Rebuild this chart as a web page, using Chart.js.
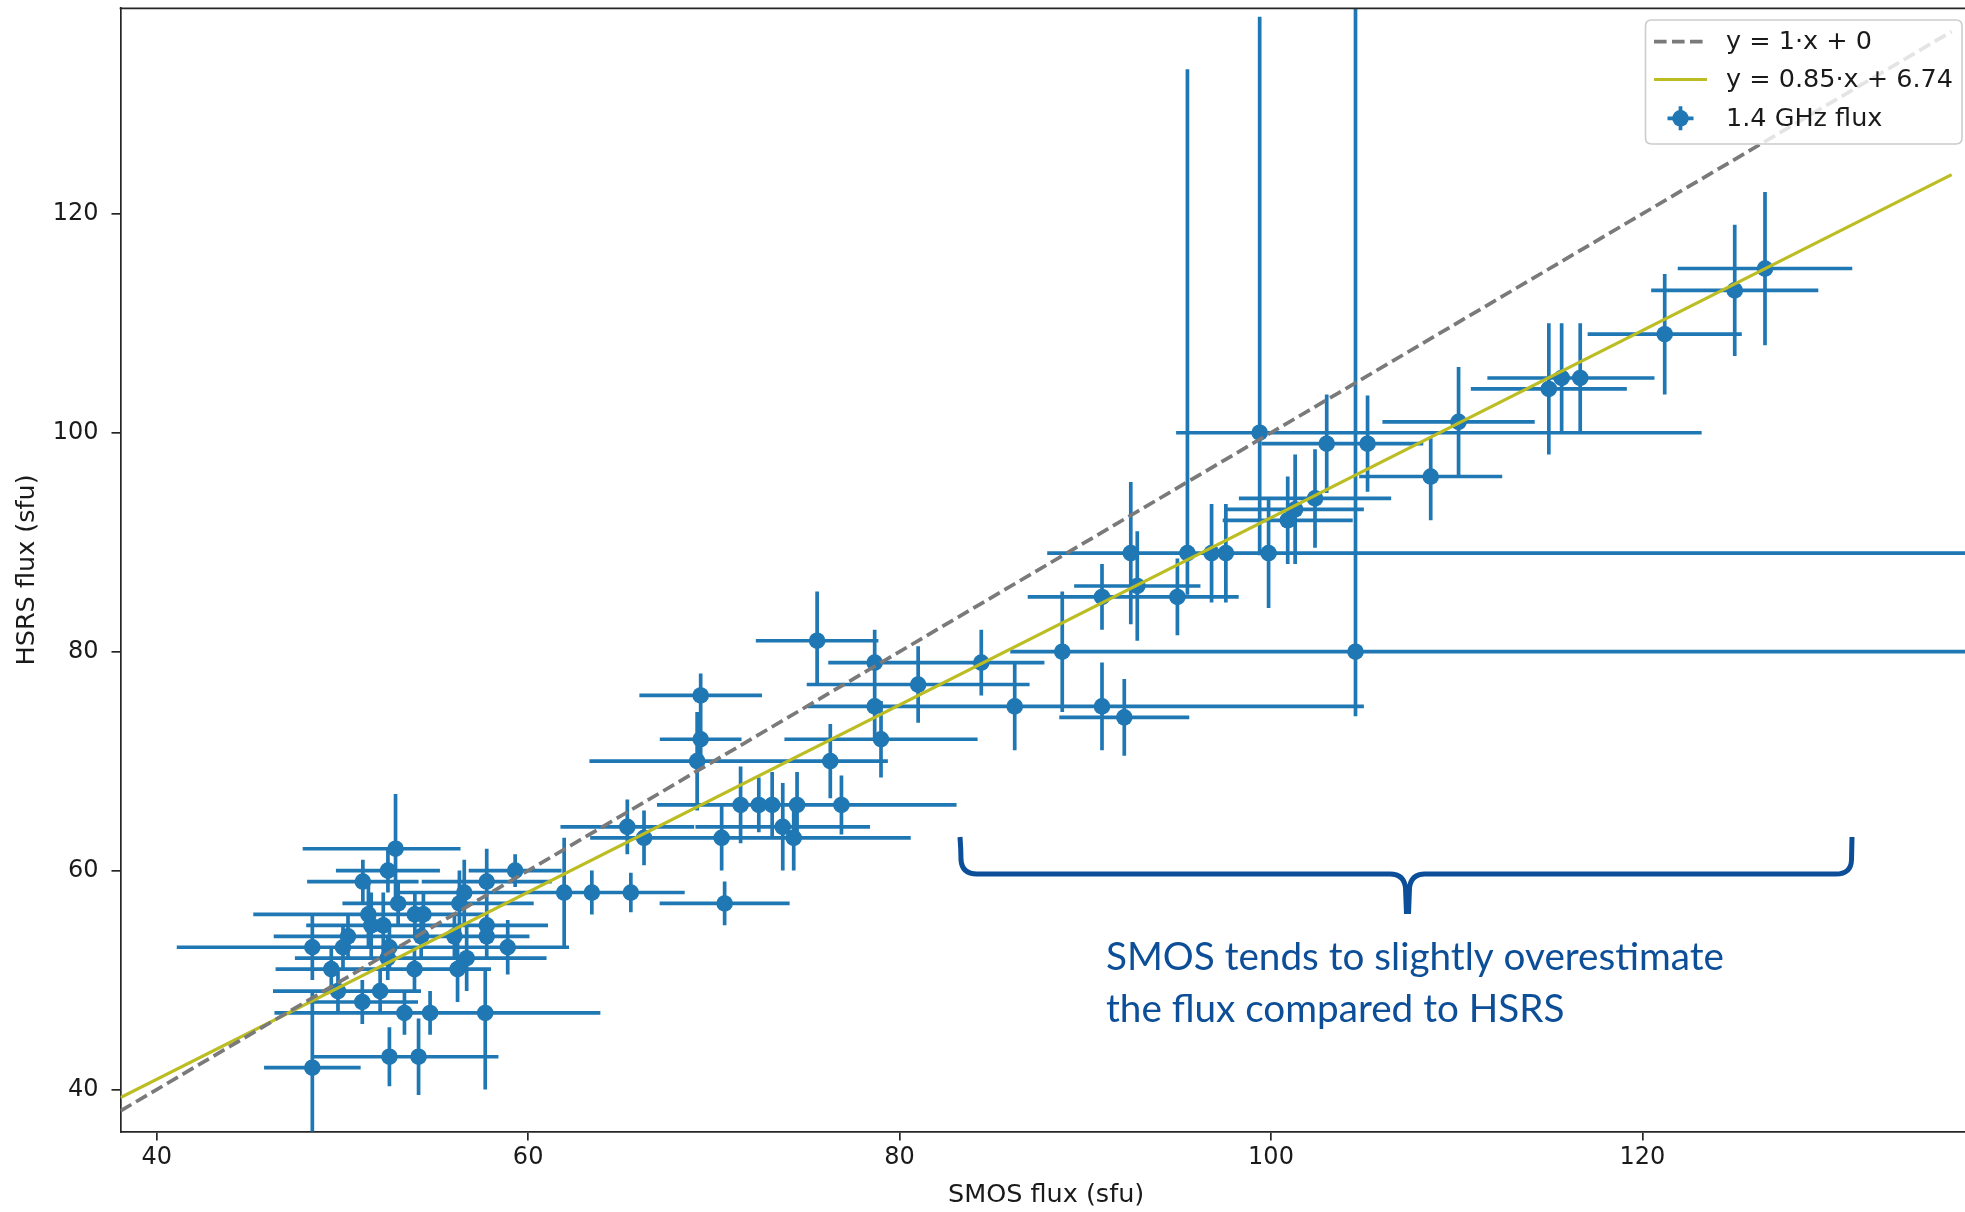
<!DOCTYPE html>
<html>
<head>
<meta charset="utf-8">
<script src="https://cdn.jsdelivr.net/npm/chart.js@4.4.1/dist/chart.umd.min.js"></script>
<style>
  html, body { margin: 0; padding: 0; background: #ffffff; overflow: hidden; }
  #wrap { position: relative; width: 1980px; height: 1212px; }
</style>
</head>
<body>
<div id="wrap"><canvas id="chart"></canvas></div>
<script>
// ---------------- data ----------------
const smosFlux = [
  126.6, 124.97, 121.2, 116.65, 115.65, 114.96, 110.1, 108.6, 105.2, 103.0,
  99.39, 102.37, 101.3, 100.9, 99.87, 97.57, 96.8, 95.5, 92.45, 92.8,
  90.9, 94.96, 104.55, 88.76, 84.4, 86.2, 90.9, 92.1, 75.56, 78.66,
  81.0, 78.66, 79.0, 76.27, 69.1, 69.29, 69.29, 65.34, 66.24, 70.42,
  74.3, 73.71, 71.44, 72.42, 73.14, 74.48, 76.87, 61.94, 63.43, 65.53,
  70.58, 59.3, 57.77, 52.86, 52.45, 51.1, 53.0, 56.56, 56.3, 51.4,
  53.9, 54.36, 51.55, 52.2, 57.77, 54.24, 50.3, 56.03, 57.77, 48.38,
  50.03, 52.53, 58.9, 52.44, 56.69, 49.4, 53.88, 56.2, 49.76, 52.03,
  51.07, 53.34, 54.72, 57.69, 52.53, 54.1, 48.38
];
const hsrsFlux = [
  115, 113, 109, 105, 105, 104, 101, 96, 99, 99,
  100, 94, 93, 92, 89, 89, 89, 89, 89, 86,
  85, 85, 80, 80, 79, 75, 75, 74, 81, 79,
  77, 75, 72, 70, 70, 72, 76, 64, 63, 63,
  63, 64, 66, 66, 66, 66, 66, 58, 58, 58,
  57, 60, 59, 62, 60, 59, 57, 58, 57, 56,
  56, 56, 55, 55, 55, 54, 54, 54, 54, 53,
  53, 53, 53, 52, 52, 51, 51, 51, 49, 49,
  48, 47, 47, 47, 43, 43, 42
];
const smosErrMinus = [
  4.7, 4.5, 4.15, 4, 4, 4.2, 4.1, 3.85, 3, 3.5,
  4.5, 4.1, 3.7, 3.5, 3, 3, 3.5, 4, 4.5, 3.4,
  4, 3.3, 13.15, 2.8, 3.4, 5, 5, 3.5, 3.3, 2.5,
  6, 3.6, 5.2, 3.1, 5.8, 2.2, 3.3, 3.6, 2.9, 3,
  6.3, 4.7, 4.5, 3, 3, 3.5, 6.2, 2.5, 2.2, 2.9,
  3.5, 2.5, 3.5, 5, 2.8, 3, 3, 3.5, 4, 6.2,
  3, 3, 3.5, 4, 3.3, 5, 4, 4, 2.3, 7.3,
  3, 3, 3.3, 5, 4.3, 3, 3, 1.8, 3.5, 2.2,
  3, 7, 3, 6.2, 4.1, 4.3, 2.6
];
const smosErrPlus = [
  4.7, 4.5, 4.15, 4, 4, 4.2, 4.1, 3.85, 3, 3.5,
  23.8, 4.1, 3.7, 3.5, 40, 3, 3.5, 4, 4.5, 3.4,
  4, 3.3, 40, 2.8, 3.4, 5, 14.1, 3.5, 3.3, 2.5,
  6, 3.6, 5.2, 3.1, 5.8, 2.2, 3.3, 3.6, 2.9, 3,
  6.3, 4.7, 4.5, 3, 3, 3.5, 6.2, 2.5, 2.2, 2.9,
  3.5, 2.5, 3.5, 3.5, 2.8, 3, 3, 3.5, 4, 6.2,
  3, 3, 3.5, 4, 3.3, 5, 4, 4, 2.3, 7.3,
  3, 3, 3.3, 5, 4.3, 3, 3, 1.8, 3.5, 2.2,
  3, 7, 3, 6.2, 4.1, 4.3, 2.6
];
const hsrsErrMinus = [
  7, 6, 5.5, 5, 5, 6, 5, 4, 4.4, 4.5,
  11.2, 4.5, 5, 4, 5, 4.5, 4.5, 3.8, 6.5, 5,
  3, 3.5, 5.9, 5.5, 3, 4, 4, 3.5, 4, 3,
  3.5, 3, 3.5, 3.4, 4.5, 2.5, 2, 2.5, 2.5, 3,
  3, 4, 3.5, 2.5, 3, 3, 2.7, 5, 2, 1.8,
  2, 1.5, 3, 5, 2, 2, 2, 3, 3, 3,
  2, 2, 3, 3, 2.5, 2, 2, 2, 2, 3,
  2, 2, 2.5, 2, 3, 2, 2, 3, 2, 2,
  2, 2, 2, 7, 2.7, 3.5, 7
];
const hsrsErrPlus = [
  7, 6, 5.5, 5, 5, 6, 5, 3.5, 4.4, 4.5,
  38, 4.5, 5, 4, 5, 4.5, 4.5, 44.2, 6.5, 5,
  3, 3.5, 60, 5.5, 3, 4, 4, 3.5, 4.5, 3,
  3.5, 3, 3.5, 3.4, 4.5, 2.5, 2, 2.5, 2.5, 3,
  3, 4, 3.5, 2.5, 3, 3, 2.7, 5, 2, 1.8,
  2, 1.5, 3, 5, 2, 2, 2, 3, 3, 3,
  2, 2, 3, 3, 2.5, 2, 2, 2, 2, 3,
  2, 2, 2.5, 2, 3, 2, 2, 3, 2, 2,
  2, 2, 2, 4, 2.7, 3.5, 7
];
const xTicks = [40, 60, 80, 100, 120];
const yTicks = [40, 60, 80, 100, 120];
const xLimits = [38.05, 137.73];
const yLimits = [36.17, 138.77];
const lineRange = [38.05, 136.65];
const fitSlope = 0.855;      // drawn line as measured in the picture
const fitIntercept = 6.74;
const legendLabels = ['y = 1·x + 0', 'y = 0.85·x + 6.74', '1.4 GHz flux'];
const axisTitles = ['SMOS flux (sfu)', 'HSRS flux (sfu)'];
const noteLines = ['SMOS tends to slightly overestimate', 'the flux compared to HSRS'];

// ---------------- styles ----------------
const BLUE = '#1f77b4';
const OLIVE = '#bcbd22';
const GREY = '#7a7a7a';
const INK = '#1a1a1a';
const NOTE = '#0c4e97';
const LW = 3.7;
const DASH = [12.6, 5.4];
const MARKER_R = 8.3;

Chart.defaults.font.family = "'DejaVu Sans', sans-serif";
Chart.defaults.font.size = 24;
Chart.defaults.color = INK;

const points = smosFlux.map((x, i) => ({ x: x, y: hsrsFlux[i] }));
const identityLine = lineRange.map(v => ({ x: v, y: v }));
const fitLine = lineRange.map(v => ({ x: v, y: fitSlope * v + fitIntercept }));

const errorBars = {
  id: 'errorBars',
  beforeDatasetsDraw(chart) {
    const { ctx, chartArea: a, scales: { x, y } } = chart;
    ctx.save();
    ctx.beginPath();
    ctx.rect(a.left, a.top, a.right - a.left, a.bottom - a.top);
    ctx.clip();
    ctx.strokeStyle = BLUE;
    ctx.lineWidth = LW;
    ctx.lineCap = 'butt';
    ctx.beginPath();
    smosFlux.forEach((xv, i) => {
      const yv = hsrsFlux[i];
      const px = x.getPixelForValue(xv);
      const py = y.getPixelForValue(yv);
      ctx.moveTo(x.getPixelForValue(xv - smosErrMinus[i]), py);
      ctx.lineTo(x.getPixelForValue(xv + smosErrPlus[i]), py);
      ctx.moveTo(px, y.getPixelForValue(yv - hsrsErrMinus[i]));
      ctx.lineTo(px, y.getPixelForValue(yv + hsrsErrPlus[i]));
    });
    ctx.stroke();
    ctx.restore();
  }
};

const decorations = {
  id: 'decorations',
  afterDraw(chart) {
    const { ctx, chartArea: a } = chart;
    ctx.save();
    // top and right spines
    ctx.strokeStyle = '#262626';
    ctx.lineWidth = 1.7;
    ctx.beginPath();
    ctx.moveTo(a.left - 0.85, a.top);
    ctx.lineTo(a.right, a.top);
    ctx.lineTo(a.right, a.bottom);
    ctx.stroke();

    // legend box
    const bx = 1645.5, by = 20, bw = 316.5, bh = 124, r = 6;
    ctx.beginPath();
    ctx.moveTo(bx + r, by);
    ctx.lineTo(bx + bw - r, by);
    ctx.quadraticCurveTo(bx + bw, by, bx + bw, by + r);
    ctx.lineTo(bx + bw, by + bh - r);
    ctx.quadraticCurveTo(bx + bw, by + bh, bx + bw - r, by + bh);
    ctx.lineTo(bx + r, by + bh);
    ctx.quadraticCurveTo(bx, by + bh, bx, by + bh - r);
    ctx.lineTo(bx, by + r);
    ctx.quadraticCurveTo(bx, by, bx + r, by);
    ctx.closePath();
    ctx.fillStyle = 'rgba(255,255,255,0.8)';
    ctx.fill();
    ctx.strokeStyle = '#cccccc';
    ctx.lineWidth = 1.6;
    ctx.stroke();

    const rows = [41.7, 79.5, 118.3];
    const hx0 = 1654, hx1 = 1707, tx = 1726;
    // dashed handle
    ctx.setLineDash(DASH);
    ctx.strokeStyle = GREY; ctx.lineWidth = LW;
    ctx.beginPath(); ctx.moveTo(hx0, rows[0]); ctx.lineTo(hx1, rows[0]); ctx.stroke();
    ctx.setLineDash([]);
    ctx.strokeStyle = OLIVE; ctx.lineWidth = 3.2;
    ctx.beginPath(); ctx.moveTo(hx0, rows[1]); ctx.lineTo(hx1, rows[1]); ctx.stroke();
    // errorbar handle
    const cx = (hx0 + hx1) / 2;
    ctx.strokeStyle = BLUE; ctx.lineWidth = LW;
    ctx.beginPath();
    ctx.moveTo(cx - 13, rows[2]); ctx.lineTo(cx + 13, rows[2]);
    ctx.moveTo(cx, rows[2] - 12); ctx.lineTo(cx, rows[2] + 12);
    ctx.stroke();
    ctx.fillStyle = BLUE;
    ctx.beginPath(); ctx.arc(cx, rows[2], MARKER_R, 0, Math.PI * 2); ctx.fill();

    ctx.fillStyle = INK;
    ctx.font = "25.5px 'DejaVu Sans'";
    ctx.textAlign = 'left';
    ctx.textBaseline = 'middle';
    legendLabels.forEach((t, i) => ctx.fillText(t, tx, rows[i] + 1));

    // curly brace annotation
    ctx.strokeStyle = NOTE;
    ctx.lineWidth = 5;
    ctx.lineJoin = 'round';
    ctx.beginPath();
    ctx.moveTo(960, 837);
    ctx.quadraticCurveTo(961, 850, 961, 860);
    ctx.quadraticCurveTo(962, 874, 977, 874);
    ctx.lineTo(1390, 874);
    ctx.quadraticCurveTo(1404, 874, 1405.5, 888);
    ctx.lineTo(1406.5, 914);
    ctx.moveTo(1408.5, 914);
    ctx.lineTo(1409.5, 888);
    ctx.quadraticCurveTo(1411, 874, 1425, 874);
    ctx.lineTo(1836, 874);
    ctx.quadraticCurveTo(1851, 874, 1851.5, 860);
    ctx.lineTo(1852, 837);
    ctx.stroke();

    // note text, sized to the reference width
    ctx.fillStyle = NOTE;
    ctx.font = "100px Lato, 'Open Sans', sans-serif";
    const w = ctx.measureText(noteLines[0]).width;
    const fs = 100 * 618 / w;
    ctx.font = fs.toFixed(2) + "px Lato, 'Open Sans', sans-serif";
    ctx.textBaseline = 'alphabetic';
    ctx.fillText(noteLines[0], 1106, 970);
    ctx.fillText(noteLines[1], 1106, 1022);
    ctx.restore();
  }
};

new Chart(document.getElementById('chart'), {
  type: 'scatter',
  data: {
    datasets: [
      { label: legendLabels[0], data: identityLine, showLine: true, borderColor: GREY,
        borderWidth: LW, borderDash: DASH, pointRadius: 0, order: 0 },
      { label: legendLabels[1], data: fitLine, showLine: true, borderColor: OLIVE,
        borderWidth: 3.2, pointRadius: 0, order: 1 },
      { label: legendLabels[2], data: points, showLine: false, pointRadius: MARKER_R,
        pointBackgroundColor: BLUE, pointBorderWidth: 0, pointBorderColor: BLUE, order: 2 }
    ]
  },
  options: {
    responsive: true,
    maintainAspectRatio: false,
    animation: false,
    events: [],
    layout: { padding: { left: 0, top: 6, right: 5, bottom: 0 } },
    plugins: { legend: { display: false }, tooltip: { enabled: false } },
    scales: {
      x: {
        type: 'linear', position: 'bottom', min: xLimits[0], max: xLimits[1],
        afterBuildTicks: ax => { ax.ticks = xTicks.map(v => ({ value: v })); },
        afterFit: ax => { ax.height = 80.5; ax.paddingLeft = 0; ax.paddingRight = 0; },
        grid: { drawOnChartArea: false, drawTicks: true, tickLength: 9, color: '#262626', lineWidth: 1.7 },
        border: { display: true, color: '#262626', width: 1.7 },
        ticks: { color: INK, padding: 3, maxRotation: 0, autoSkip: false, font: { size: 24 } },
        title: { display: true, text: axisTitles[0], color: INK, font: { size: 25.5 }, padding: { top: 0, bottom: 1 } }
      },
      y: {
        type: 'linear', position: 'left', min: yLimits[0], max: yLimits[1],
        afterBuildTicks: ax => { ax.ticks = yTicks.map(v => ({ value: v })); },
        afterFit: ax => { ax.width = 120.5; ax.paddingTop = 0; ax.paddingBottom = 0; },
        grid: { drawOnChartArea: false, drawTicks: true, tickLength: 9, color: '#262626', lineWidth: 1.7 },
        border: { display: true, color: '#262626', width: 1.7 },
        ticks: { color: INK, padding: 13, autoSkip: false, font: { size: 24 } },
        title: { display: true, text: axisTitles[1], color: INK, font: { size: 25.5 }, padding: { top: 12, bottom: 0 } }
      }
    }
  },
  plugins: [errorBars, decorations]
});
</script>
</body>
</html>
